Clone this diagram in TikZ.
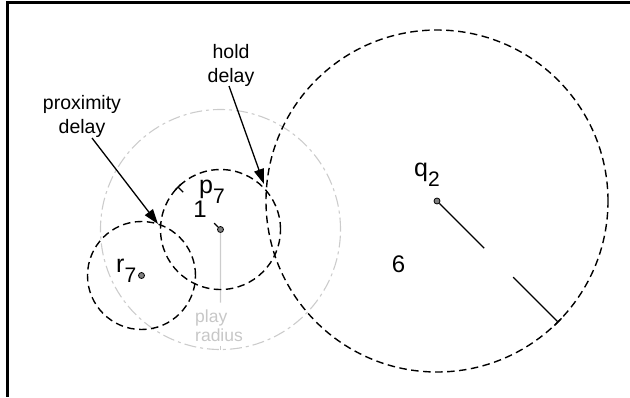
\documentclass[tikz,border=0pt]{standalone}
\usepackage{fontspec}
\setmainfont{Liberation Sans}
\usetikzlibrary{arrows.meta, calc}

\tikzset{
  rangecircle/.style={draw, line width=1.4pt, dash pattern=on 7.5pt off 4.5pt},
  playcircle/.style={draw=black!20, line width=1.1pt, dash pattern=on 12pt off 4pt on 3pt off 4pt},
  agentdot/.style={circle, draw, fill=black!50, line width=0.8pt, inner sep=0pt, minimum size=6pt},
  calltext/.style={font=\fontsize{19.5}{24}\selectfont, align=center, inner sep=0pt},
  idtext/.style={font=\fontsize{25}{25}\selectfont, inner sep=0pt, anchor=base west},
  rangetext/.style={font=\fontsize{24}{24}\selectfont, inner sep=0pt},
  calloutarrow/.style={-{Triangle[length=15pt,width=10pt]}, line width=1.3pt},
  radiusline/.style={line width=1.4pt},
}
\newcommand{\idsub}[1]{\raisebox{-10pt}{\fontsize{21}{21}\selectfont #1}}

\begin{document}
\begin{tikzpicture}[x=1pt, y=-1pt]
  \useasboundingbox (0,0) rectangle (630,397);
  % frame, top and left edge only
  \draw[line width=3pt] (630,2.5) -- (7.5,2.5) -- (7.5,397);

  % agents
  \node[agentdot] (p7) at (220.5,229.5) {};
  \node[agentdot] (r7) at (141.5,275.5) {};
  \node[agentdot] (q2) at (437,201) {};

  % play radius of p7
  \draw[playcircle] (p7.center) circle[radius=120pt];
  \coordinate (playrim) at ($(p7.center)+(0,120)$);
  \draw[black!20, line width=1.1pt] (p7) -- ($(p7.center)!0.61!(playrim)$);
  \draw[black!20, line width=1.1pt] ($(p7.center)!0.97!(playrim)$) -- (playrim);
  \node[font=\fontsize{17.5}{19}\selectfont, text=black!22, align=left, anchor=west, inner sep=0pt]
    (playlabel) at (195,326) {play\\radius};

  % dashed ranges
  \draw[rangecircle] (p7.center) circle[radius=60pt];
  \draw[rangecircle] (r7.center) circle[radius=54pt];
  \draw[rangecircle] (q2.center) circle[radius=171pt];

  % radius of p7
  \coordinate (p7rim) at ($(p7.center)+(135:60pt)$);
  \draw[radiusline] (p7) -- ($(p7.center)!0.15!(p7rim)$);
  \draw[radiusline] ($(p7.center)!0.88!(p7rim)$) -- (p7rim);
  \draw[radiusline] ($(p7rim)!4pt!90:(p7.center)$) -- ($(p7rim)!4pt!-90:(p7.center)$);
  \node[rangetext] (p7range) at (200,209) {1};

  % radius of q2
  \coordinate (q2rim) at ($(q2.center)+(-45:171pt)$);
  \draw[radiusline] (q2) -- ($(q2.center)!0.39!(q2rim)$);
  \draw[radiusline] ($(q2.center)!0.63!(q2rim)$) -- (q2rim);
  \draw[radiusline] ($(q2rim)!5pt!90:(q2.center)$) -- ($(q2rim)!5pt!-90:(q2.center)$);
  \node[rangetext] (q2range) at (398.5,264.5) {6};

  % names
  \node[idtext] (p7name) at (199,193) {p\idsub{7}};
  \node[idtext] (r7name) at (116,272) {r\idsub{7}};
  \node[idtext] (q2name) at (414,176) {q\idsub{2}};

  % callouts
  \node[calltext] (proxlabel) at (82,116) {proximity\\delay};
  \node[calltext] (holdlabel) at (231,65) {hold\\delay};
  \coordinate (proxfoot) at (92,138);
  \coordinate (proxtip) at (158,224);
  \coordinate (holdfoot) at (229,86);
  \coordinate (holdtip) at (264,184);
  \draw[calloutarrow] (proxfoot) -- (proxtip);
  \draw[calloutarrow] (holdfoot) -- (holdtip);
\end{tikzpicture}
\end{document}
